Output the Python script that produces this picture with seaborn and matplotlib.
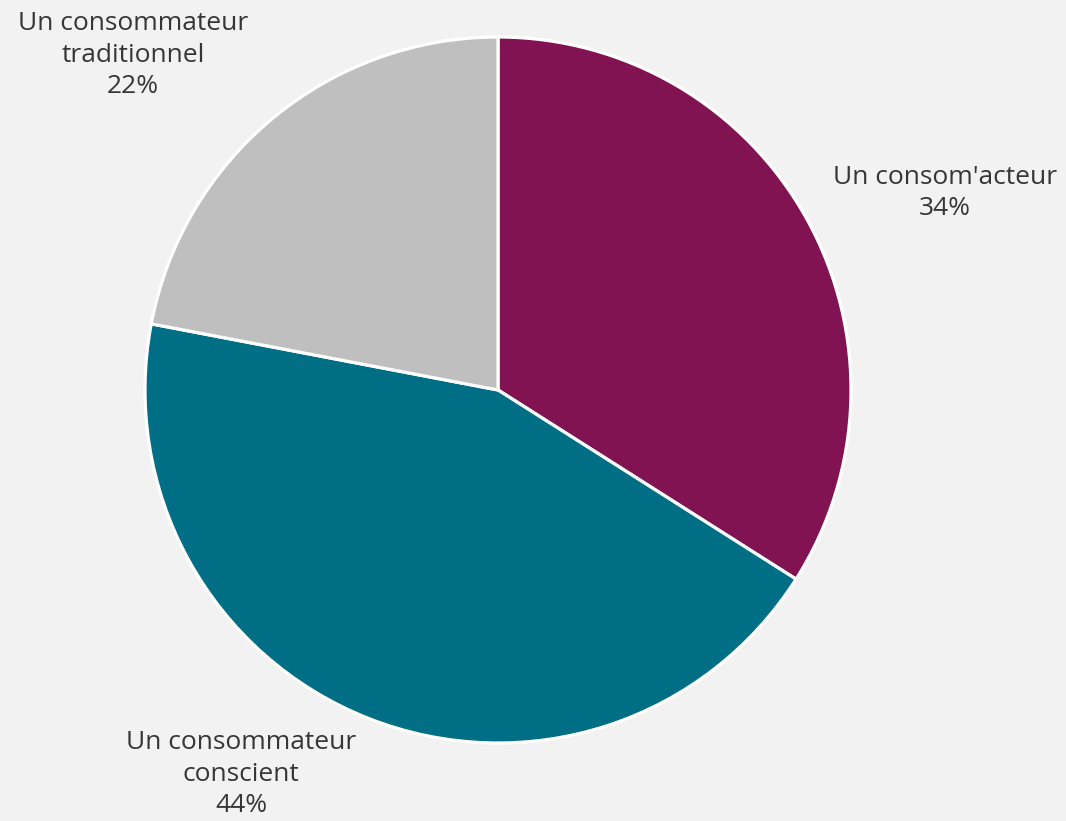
import matplotlib
matplotlib.use("Agg")
import matplotlib.pyplot as plt
import seaborn as sns

# Survey breakdown of consumer profiles
categories = ["Un consom'acteur", "Un consommateur\nconscient", "Un consommateur\ntraditionnel"]
shares = [34, 44, 22]
colors = ["#821352", "#006E84", "#BFBFBF"]

BG = "#F2F2F2"
TEXT = "#363636"
W, H = 1066, 821

sns.set_theme(style="white")
plt.rcParams["font.family"] = ["Open Sans", "DejaVu Sans"]

fig = plt.figure(figsize=(W / 100, H / 100), dpi=100, facecolor=BG)
ax = fig.add_axes([0, 0, 1, 1])
ax.set_facecolor(BG)

cx, cy, r = 498, H - 390, 353
ax.pie(
    shares,
    colors=colors,
    startangle=90,
    counterclock=False,
    center=(cx, cy),
    radius=r,
    wedgeprops=dict(edgecolor="white", linewidth=2.3),
)
ax.set_xlim(0, W)
ax.set_ylim(0, H)
ax.set_aspect("equal")
ax.axis("off")

# label anchors (pixel positions of text block centers)
label_pos = [(945, H - 193), (241, H - 774), (133, H - 55)]
for name, val, (x, y) in zip(categories, shares, label_pos):
    ax.text(x, y, f"{name}\n{val}%", ha="center", va="center",
            fontsize=19, color=TEXT, linespacing=1.34)

fig.savefig("out.png", dpi=100, facecolor=BG)
